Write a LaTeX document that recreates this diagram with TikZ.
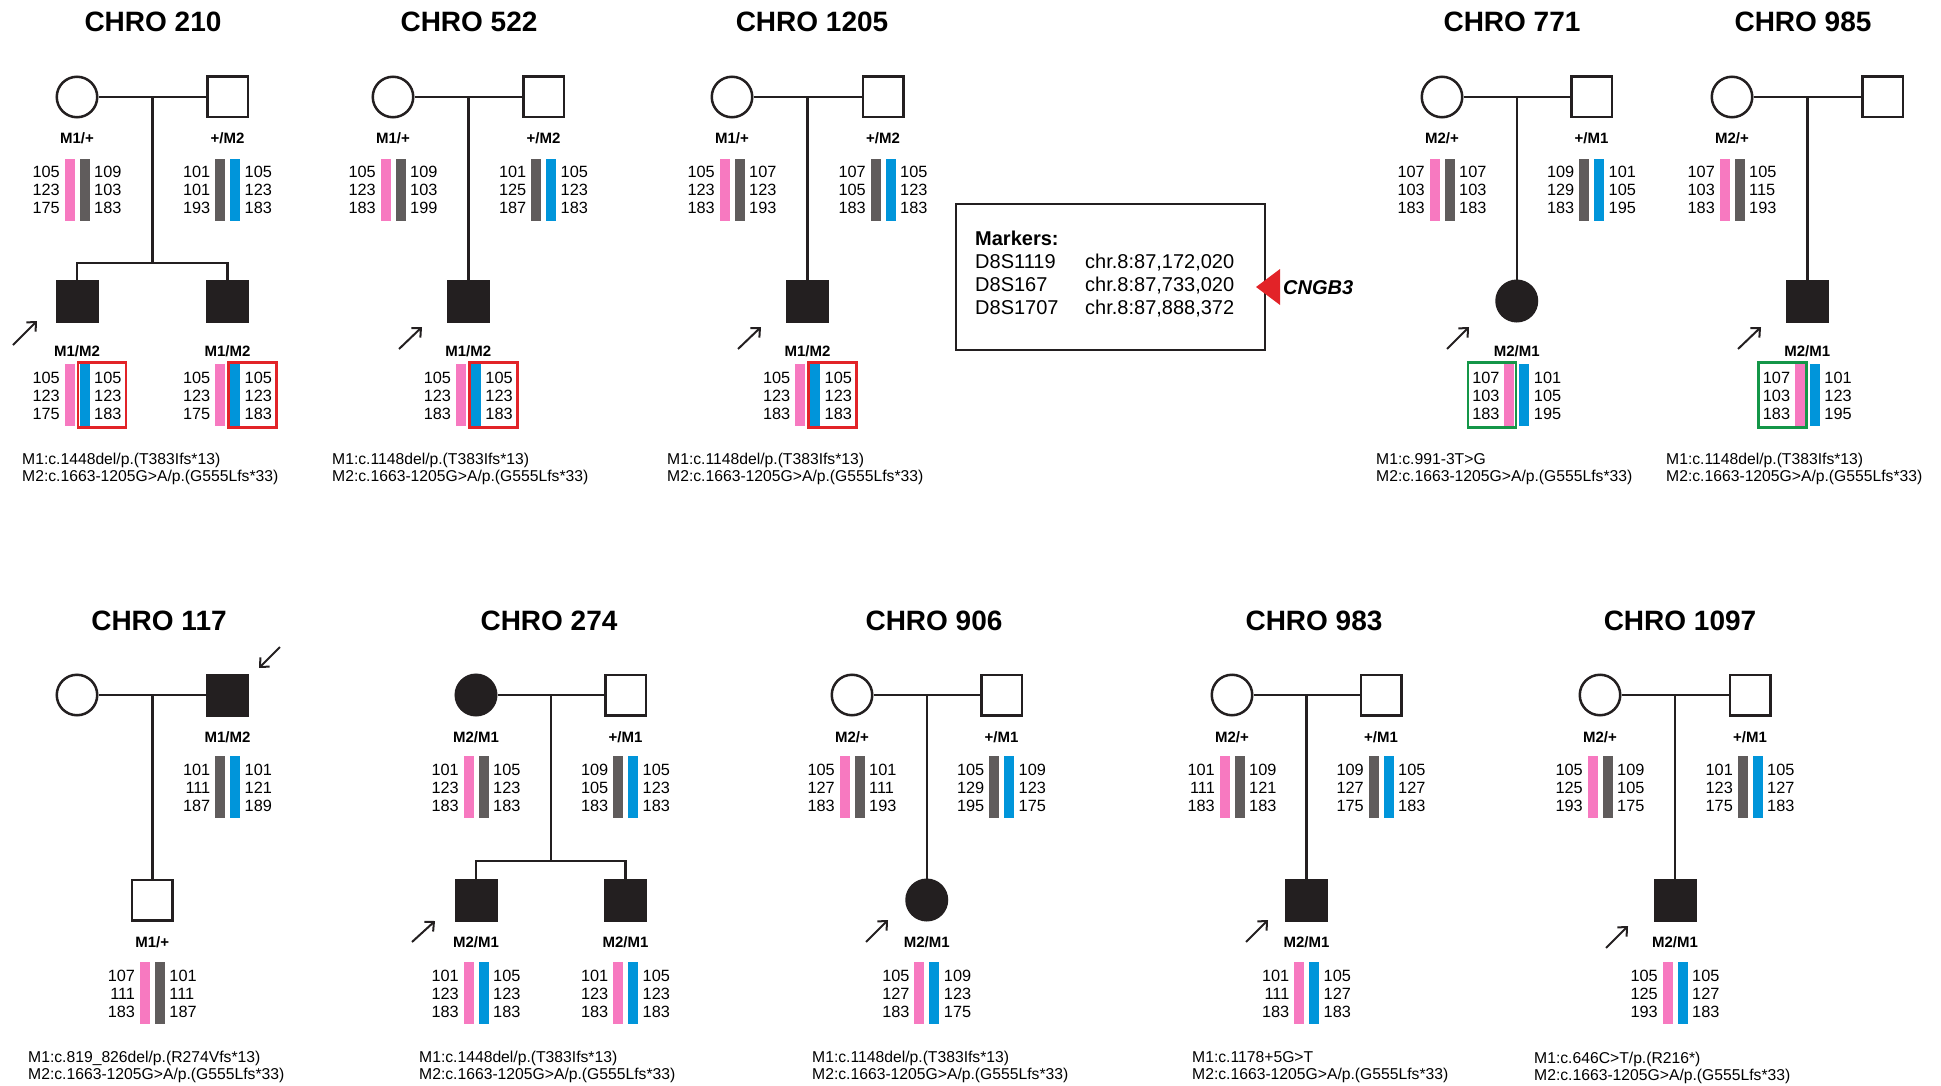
\documentclass[tikz,border=0pt]{standalone}
\usepackage{fontspec}
\setmainfont{Liberation Sans}
\usetikzlibrary{arrows.meta}
\usetikzlibrary{calc}

\definecolor{hpink}{RGB}{247,121,192}
\definecolor{hgrey}{RGB}{96,92,92}
\definecolor{hblue}{RGB}{0,149,218}
\definecolor{boxred}{RGB}{226,35,40}
\definecolor{boxgreen}{RGB}{20,150,72}
\definecolor{pedblack}{RGB}{35,31,32}

\begin{document}
\begin{tikzpicture}[x=1pt, y=-1pt,
    person/.style={draw=pedblack, line width=2.5pt, minimum size=40.5pt, inner sep=0pt},
    male/.style={person, rectangle},
    female/.style={person, circle},
    affected/.style={fill=pedblack},
    kin/.style={draw=pedblack, line width=2.5pt},
    pointer/.style={draw=pedblack, line width=2pt, -{Straight Barb[length=7pt, width=13pt]}},
    title/.style={font=\fontsize{28}{32}\selectfont\bfseries, anchor=base, inner sep=0pt},
    geno/.style={font=\fontsize{15}{18}\selectfont\bfseries, anchor=base, inner sep=0pt},
    num/.style={font=\fontsize{16.3}{18}\selectfont, inner sep=0pt},
    mut/.style={font=\fontsize{15.7}{18}\selectfont, anchor=base west, inner sep=0pt},
    markertext/.style={font=\fontsize{20}{23}\selectfont, anchor=base west, inner sep=0pt},
    redbox/.style={draw=boxred, line width=2.5pt},
    greenbox/.style={draw=boxgreen, line width=2.5pt}]
  \useasboundingbox (0,0) rectangle (1941,1086);

  % CHRO 210
  \node[title] (t210) at (153,32) {CHRO 210};
  \node[female] (a210mo) at (77,97) {};
  \node[male] (a210fa) at (227.5,97) {};
  \node[male, affected] (a210ca) at (77,301) {};
  \node[male, affected] (a210cb) at (227.5,301) {};
  \coordinate (a210mid) at ($(a210mo)!.5!(a210fa)$);
  \coordinate (a210sib) at (152.25,263);
  \draw[kin] (a210mo) -- (a210fa);
  \draw[kin] (a210mid) -- (a210sib);
  \draw[kin] (a210ca) |- (a210sib) -| (a210cb);
  \coordinate (a210pr) at (13,345);
  \draw[pointer] (a210pr) -- ++(24,-24);

  % CHRO 522
  \node[title] (t522) at (469,32) {CHRO 522};
  \node[female] (a522mo) at (393,97) {};
  \node[male] (a522fa) at (543.5,97) {};
  \node[male, affected] (a522c) at (468.25,301) {};
  \coordinate (a522mid) at ($(a522mo)!.5!(a522fa)$);
  \draw[kin] (a522mo) -- (a522fa);
  \draw[kin] (a522mid) -- (a522c);
  \coordinate (a522pr) at (399,349);
  \draw[pointer] (a522pr) -- ++(23,-22);

  % CHRO 1205
  \node[title] (t1205) at (812,32) {CHRO 1205};
  \node[female] (a1205mo) at (732,97) {};
  \node[male] (a1205fa) at (883,97) {};
  \node[male, affected] (a1205c) at (807.5,301) {};
  \coordinate (a1205mid) at ($(a1205mo)!.5!(a1205fa)$);
  \draw[kin] (a1205mo) -- (a1205fa);
  \draw[kin] (a1205mid) -- (a1205c);
  \coordinate (a1205pr) at (738,349);
  \draw[pointer] (a1205pr) -- ++(23,-22);

  % CHRO 771
  \node[title] (t771) at (1512,32) {CHRO 771};
  \node[female] (a771mo) at (1442,97) {};
  \node[male] (a771fa) at (1591.5,97) {};
  \node[female, affected] (a771c) at (1516.75,301) {};
  \coordinate (a771mid) at ($(a771mo)!.5!(a771fa)$);
  \draw[kin] (a771mo) -- (a771fa);
  \draw[kin] (a771mid) -- (a771c);
  \coordinate (a771pr) at (1447,349);
  \draw[pointer] (a771pr) -- ++(22,-22);

  % CHRO 985
  \node[title] (t985) at (1803,32) {CHRO 985};
  \node[female] (a985mo) at (1732,97) {};
  \node[male] (a985fa) at (1882.5,97) {};
  \node[male, affected] (a985c) at (1807.25,301) {};
  \coordinate (a985mid) at ($(a985mo)!.5!(a985fa)$);
  \draw[kin] (a985mo) -- (a985fa);
  \draw[kin] (a985mid) -- (a985c);
  \coordinate (a985pr) at (1738,349);
  \draw[pointer] (a985pr) -- ++(23,-22);

  % CHRO 117
  \node[title] (t117) at (159,630) {CHRO 117};
  \node[female] (a117mo) at (77,695) {};
  \node[male, affected] (a117fa) at (227.5,695) {};
  \node[male] (a117c) at (152.25,900) {};
  \coordinate (a117mid) at ($(a117mo)!.5!(a117fa)$);
  \draw[kin] (a117mo) -- (a117fa);
  \draw[kin] (a117mid) -- (a117c);
  \coordinate (a117pr) at (280,647);
  \draw[pointer] (a117pr) -- ++(-21,21);

  % CHRO 274
  \node[title] (t274) at (549,630) {CHRO 274};
  \node[female, affected] (a274mo) at (476,695) {};
  \node[male] (a274fa) at (625.5,695) {};
  \node[male, affected] (a274ca) at (476,900) {};
  \node[male, affected] (a274cb) at (625.5,900) {};
  \coordinate (a274mid) at ($(a274mo)!.5!(a274fa)$);
  \coordinate (a274sib) at (550.75,861);
  \draw[kin] (a274mo) -- (a274fa);
  \draw[kin] (a274mid) -- (a274sib);
  \draw[kin] (a274ca) |- (a274sib) -| (a274cb);
  \coordinate (a274pr) at (412,942);
  \draw[pointer] (a274pr) -- ++(23,-21);

  % CHRO 906
  \node[title] (t906) at (934,630) {CHRO 906};
  \node[female] (a906mo) at (852,695) {};
  \node[male] (a906fa) at (1001.5,695) {};
  \node[female, affected] (a906c) at (926.75,900) {};
  \coordinate (a906mid) at ($(a906mo)!.5!(a906fa)$);
  \draw[kin] (a906mo) -- (a906fa);
  \draw[kin] (a906mid) -- (a906c);
  \coordinate (a906pr) at (866,942);
  \draw[pointer] (a906pr) -- ++(22,-22);

  % CHRO 983
  \node[title] (t983) at (1314,630) {CHRO 983};
  \node[female] (a983mo) at (1232,695) {};
  \node[male] (a983fa) at (1381,695) {};
  \node[male, affected] (a983c) at (1306.5,900) {};
  \coordinate (a983mid) at ($(a983mo)!.5!(a983fa)$);
  \draw[kin] (a983mo) -- (a983fa);
  \draw[kin] (a983mid) -- (a983c);
  \coordinate (a983pr) at (1246,942);
  \draw[pointer] (a983pr) -- ++(22,-22);

  % CHRO 1097
  \node[title] (t1097) at (1680,630) {CHRO 1097};
  \node[female] (a1097mo) at (1600,695) {};
  \node[male] (a1097fa) at (1750,695) {};
  \node[male, affected] (a1097c) at (1675,900) {};
  \coordinate (a1097mid) at ($(a1097mo)!.5!(a1097fa)$);
  \draw[kin] (a1097mo) -- (a1097fa);
  \draw[kin] (a1097mid) -- (a1097c);
  \coordinate (a1097pr) at (1606,948);
  \draw[pointer] (a1097pr) -- ++(22,-22);

  % genotypes
  \foreach \nm/\x/\y/\t in {a210mo/77/144/{M1/+}, a210fa/227.5/144/{+/M2},
      a522mo/393/144/{M1/+}, a522fa/543.5/144/{+/M2},
      a1205mo/732/144/{M1/+}, a1205fa/883/144/{+/M2},
      a771mo/1442/144/{M2/+}, a771fa/1591.5/144/{+/M1}, a985mo/1732/144/{M2/+},
      a210ca/77/356/{M1/M2}, a210cb/227.5/356/{M1/M2}, a522c/468.25/356/{M1/M2},
      a1205c/807.5/356/{M1/M2}, a771c/1516.75/356/{M2/M1}, a985c/1807.25/356/{M2/M1},
      a117fa/227.5/742/{M1/M2}, a274mo/476/742/{M2/M1}, a274fa/625.5/742/{+/M1},
      a906mo/852/742/{M2/+}, a906fa/1001.5/742/{+/M1},
      a983mo/1232/742/{M2/+}, a983fa/1381/742/{+/M1},
      a1097mo/1600/742/{M2/+}, a1097fa/1750/742/{+/M1},
      a117c/152.25/947/{M1/+}, a274ca/476/947/{M2/M1}, a274cb/625.5/947/{M2/M1},
      a906c/926.75/947/{M2/M1}, a983c/1306.5/947/{M2/M1}, a1097c/1675/947/{M2/M1}}
    \node[geno] (\nm-g) at (\x,\y) {\t};

  % haplotypes
  \foreach \nm/\cx/\ty/\cl/\cr/\la/\lb/\lc/\ra/\rb/\rc in {
      a210mo/77/159/hpink/hgrey/105/123/175/109/103/183,
      a210fa/227.5/159/hgrey/hblue/101/101/193/105/123/183,
      a210ca/77/364/hpink/hblue/105/123/175/105/123/183,
      a210cb/227.5/364/hpink/hblue/105/123/175/105/123/183,
      a522mo/393/159/hpink/hgrey/105/123/183/109/103/199,
      a522fa/543.5/159/hgrey/hblue/101/125/187/105/123/183,
      a522c/468.25/364/hpink/hblue/105/123/183/105/123/183,
      a1205mo/732/159/hpink/hgrey/105/123/183/107/123/193,
      a1205fa/883/159/hgrey/hblue/107/105/183/105/123/183,
      a1205c/807.5/364/hpink/hblue/105/123/183/105/123/183,
      a771mo/1442/159/hpink/hgrey/107/103/183/107/103/183,
      a771fa/1591.5/159/hgrey/hblue/109/129/183/101/105/195,
      a771c/1516.75/364/hpink/hblue/107/103/183/101/105/195,
      a985mo/1732/159/hpink/hgrey/107/103/183/105/115/193,
      a985c/1807.25/364/hpink/hblue/107/103/183/101/123/195,
      a117fa/227.5/756/hgrey/hblue/101/111/187/101/121/189,
      a117c/152.25/962/hpink/hgrey/107/111/183/101/111/187,
      a274mo/476/756/hpink/hgrey/101/123/183/105/123/183,
      a274fa/625.5/756/hgrey/hblue/109/105/183/105/123/183,
      a274ca/476/962/hpink/hblue/101/123/183/105/123/183,
      a274cb/625.5/962/hpink/hblue/101/123/183/105/123/183,
      a906mo/852/756/hpink/hgrey/105/127/183/101/111/193,
      a906fa/1001.5/756/hgrey/hblue/105/129/195/109/123/175,
      a906c/926.75/962/hpink/hblue/105/127/183/109/123/175,
      a983mo/1232/756/hpink/hgrey/101/111/183/109/121/183,
      a983fa/1381/756/hgrey/hblue/109/127/175/105/127/183,
      a983c/1306.5/962/hpink/hblue/101/111/183/105/127/183,
      a1097mo/1600/756/hpink/hgrey/105/125/193/109/105/175,
      a1097fa/1750/756/hgrey/hblue/101/123/175/105/127/183,
      a1097c/1675/962/hpink/hblue/105/125/193/105/127/183}{
    \fill[\cl] (\cx-12.5,\ty) rectangle (\cx-2.5,\ty+62);
    \fill[\cr] (\cx+2.5,\ty) rectangle (\cx+12.5,\ty+62);
    \node[num, anchor=base east] (\nm-l1) at (\cx-17,\ty+19) {\la};
    \node[num, anchor=base east] (\nm-l2) at (\cx-17,\ty+37) {\lb};
    \node[num, anchor=base east] (\nm-l3) at (\cx-17,\ty+55) {\lc};
    \node[num, anchor=base west] (\nm-r1) at (\cx+17,\ty+19) {\ra};
    \node[num, anchor=base west] (\nm-r2) at (\cx+17,\ty+37) {\rb};
    \node[num, anchor=base west] (\nm-r3) at (\cx+17,\ty+55) {\rc};
  }

  % shared haplotypes
  \foreach \cx in {77, 227.5, 468.25, 807.5}
    \draw[redbox] (\cx+1,362.5) rectangle (\cx+49,427.5);
  \foreach \cx in {1516.75, 1807.25}
    \draw[greenbox] (\cx-49,362.5) rectangle (\cx-1,427.5);

  % mutations
  \node[mut] (a210m1) at (22,464) {M1:c.1448del/p.(T383Ifs*13)};
  \node[mut] (a210m2) at (22,481) {M2:c.1663-1205G>A/p.(G555Lfs*33)};
  \node[mut] (a522m1) at (332,464) {M1:c.1148del/p.(T383Ifs*13)};
  \node[mut] (a522m2) at (332,481) {M2:c.1663-1205G>A/p.(G555Lfs*33)};
  \node[mut] (a1205m1) at (667,464) {M1:c.1148del/p.(T383Ifs*13)};
  \node[mut] (a1205m2) at (667,481) {M2:c.1663-1205G>A/p.(G555Lfs*33)};
  \node[mut] (a771m1) at (1376,464) {M1:c.991-3T>G};
  \node[mut] (a771m2) at (1376,481) {M2:c.1663-1205G>A/p.(G555Lfs*33)};
  \node[mut] (a985m1) at (1666,464) {M1:c.1148del/p.(T383Ifs*13)};
  \node[mut] (a985m2) at (1666,481) {M2:c.1663-1205G>A/p.(G555Lfs*33)};
  \node[mut] (a117m1) at (28,1062) {M1:c.819\_826del/p.(R274Vfs*13)};
  \node[mut] (a117m2) at (28,1079) {M2:c.1663-1205G>A/p.(G555Lfs*33)};
  \node[mut] (a274m1) at (419,1062) {M1:c.1448del/p.(T383Ifs*13)};
  \node[mut] (a274m2) at (419,1079) {M2:c.1663-1205G>A/p.(G555Lfs*33)};
  \node[mut] (a906m1) at (812,1062) {M1:c.1148del/p.(T383Ifs*13)};
  \node[mut] (a906m2) at (812,1079) {M2:c.1663-1205G>A/p.(G555Lfs*33)};
  \node[mut] (a983m1) at (1192,1062) {M1:c.1178+5G>T};
  \node[mut] (a983m2) at (1192,1079) {M2:c.1663-1205G>A/p.(G555Lfs*33)};
  \node[mut] (a1097m1) at (1534,1063) {M1:c.646C>T/p.(R216*)};
  \node[mut] (a1097m2) at (1534,1080) {M2:c.1663-1205G>A/p.(G555Lfs*33)};

  % markers
  \node[draw=pedblack, line width=2pt, minimum width=309pt, minimum height=146pt, inner sep=0pt] (markerbox) at (1110.5,277) {};
  \node[markertext, font=\fontsize{20}{23}\selectfont\bfseries] (mkhead) at (975,245) {Markers:};
  \foreach \nm/\d/\pos/\y in {mka/D8S1119/{chr.8:87,172,020}/268, mkb/D8S167/{chr.8:87,733,020}/291, mkc/D8S1707/{chr.8:87,888,372}/314}{
    \node[markertext] (\nm-d) at (975,\y) {\d};
    \node[markertext] (\nm-p) at (1085,\y) {\pos};
  }
  \fill[boxred] (1256,287) -- (1280,269) -- (1280,305) -- cycle;
  \node[markertext, font=\fontsize{20}{23}\selectfont\bfseries\itshape] (gene) at (1283,294) {CNGB3};
\end{tikzpicture}
\end{document}
